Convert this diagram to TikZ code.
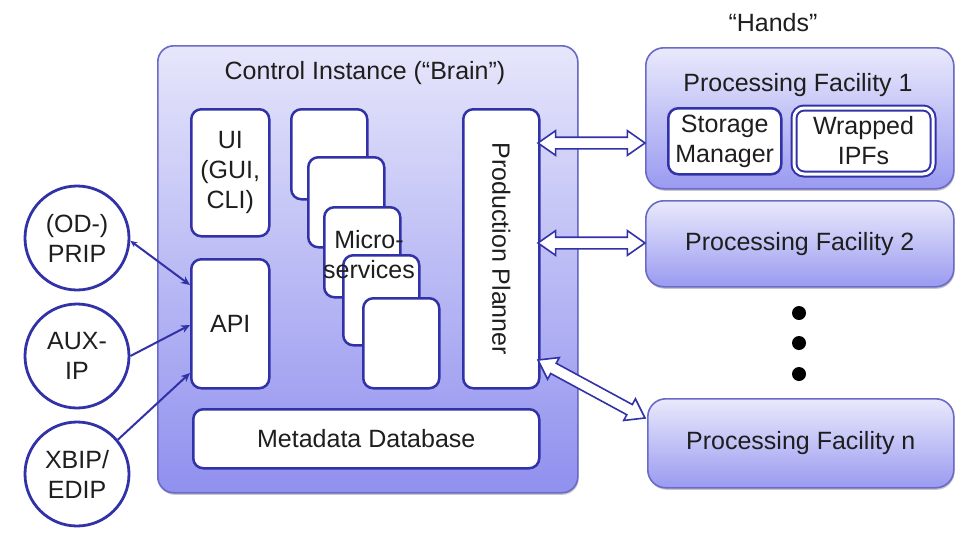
\documentclass[tikz,border=0pt]{standalone}
\usepackage{fontspec}
\setmainfont{Liberation Sans}
\usetikzlibrary{shapes.arrows,calc,shadows,arrows.meta}

\definecolor{ctlTop}{HTML}{E6E6FB}
\definecolor{ctlBot}{HTML}{9090EF}
\definecolor{pfTop}{HTML}{E9E9FC}
\definecolor{pfBot}{HTML}{9A9AF1}
\definecolor{frame}{HTML}{6A6AC8}
\definecolor{inkblue}{HTML}{3232A8}
\definecolor{txt}{HTML}{1E1E1E}

\tikzset{
  softshadow/.style={drop shadow={shadow xshift=0.8pt, shadow yshift=-2pt, opacity=0.22, fill=black}},
  container/.style={draw=frame, line width=1.6pt, rounded corners=16pt,
    top color=ctlTop, bottom color=ctlBot, anchor=north west, inner sep=0pt, softshadow},
  facility/.style={draw=frame, line width=1.6pt, rounded corners=18pt,
    top color=pfTop, bottom color=pfBot, anchor=north west, inner sep=0pt, softshadow},
  whitebox/.style={draw=inkblue, line width=2.5pt, fill=white, rounded corners=10pt,
    anchor=north west, inner sep=0pt, align=center},
  wrapbox/.style={whitebox, line width=2pt, double=white, double distance=3pt},
  source/.style={circle, draw=inkblue, line width=2.8pt, fill=white,
    minimum size=104pt, inner sep=0pt, align=center},
  feed/.style={draw=inkblue, line width=2pt, -{Stealth[length=9pt,width=8pt]}},
  hollow/.style={double arrow, draw=inkblue, line width=1.6pt, fill=white,
    inner xsep=0pt, inner ysep=5pt, minimum width=24pt,
    double arrow head extend=6.5pt, double arrow tip angle=70},
  label/.style={text=txt, align=center, inner sep=0pt},
  dot/.style={circle, fill=black, minimum size=14pt, inner sep=0pt}
}

\begin{document}
\begin{tikzpicture}[x=1pt, y=-1pt, font=\fontsize{25}{30}\selectfont, text=txt]
\useasboundingbox[fill=white] (0,0) rectangle (964,536);

% ---- control instance ----
\node[container, minimum width=420pt, minimum height=447pt] (ctl) at (157,45) {};
\node[label] (ctltitle) at (365,73) {Control Instance (“Brain”)};

\node[whitebox, minimum width=78pt, minimum height=127pt] (ui) at (190,108)
  {UI\\(GUI,\\CLI)};
\node[whitebox, minimum width=78pt, minimum height=129pt] (api) at (190,258) {API};

% stacked micro-service boxes
\node[whitebox, minimum width=76pt, minimum height=90pt] (ms1) at (290,108) {};
\node[whitebox, minimum width=76pt, minimum height=90pt] (ms2) at (307,156) {};
\node[whitebox, minimum width=76pt, minimum height=90pt] (ms3) at (323,206) {};
\node[whitebox, minimum width=76pt, minimum height=90pt] (ms4) at (342,254) {};
\node[whitebox, minimum width=76pt, minimum height=90pt] (ms5) at (362,297) {};
\node[label] (mstext) at (369,255) {Micro-\\services};

\node[whitebox, minimum width=76pt, minimum height=279pt] (pp) at (462,108) {};
\node[label, rotate=-90] (pptext) at (pp.center) {Production Planner};

\node[whitebox, minimum width=346pt, minimum height=59pt] (mdb) at (192,408)
  {Metadata Database};

% ---- external interfaces ----
\node[source] (prip) at (77,238) {(OD-)\\PRIP};
\node[source] (aux)  at (77,356) {AUX-\\IP};
\node[source] (xbip) at (77,474) {XBIP/\\EDIP};

\coordinate (apiA) at (190,285);
\coordinate (apiB) at (190,325);
\coordinate (apiC) at (190,373);
\draw[feed, {Stealth[length=7pt,width=6pt]}-{Stealth[length=9pt,width=8pt]}]
  (prip.-3) -- (apiA);
\draw[feed] (aux.east) -- (apiB);
\draw[feed] (xbip.40) -- (apiC);

% ---- processing facilities ----
\node[label] (hands) at (773,23) {“Hands”};

\node[facility, minimum width=308pt, minimum height=141pt] (pf1) at (645,47) {};
\node[label] (pf1title) at (798,85) {Processing Facility 1};
\node[whitebox, minimum width=113pt, minimum height=66pt] (store) at (667,107)
  {Storage\\Manager};
\node[wrapbox, minimum width=139pt, minimum height=66pt] (ipf) at (793,107)
  {Wrapped\\IPFs};

\node[facility, minimum width=308pt, minimum height=86pt] (pf2) at (645,200)
  {Processing Facility 2};

\node[dot] (d1) at (799,313) {};
\node[dot] (d2) at (799,343) {};
\node[dot] (d3) at (799,374) {};

\node[facility, minimum width=306pt, minimum height=89pt] (pfn) at (647,398)
  {Processing Facility n};

% ---- planner <-> facility links ----
\coordinate (ppA) at (538,143);  \coordinate (pfA) at (645,143);
\coordinate (ppB) at (538,243);  \coordinate (pfB) at (645,243);
\coordinate (ppC) at (538,360);  \coordinate (pfC) at (645,418);
\foreach \a/\b in {ppA/pfA, ppB/pfB, ppC/pfC}{
  \path let \p1=($(\b)-(\a)$), \n1={atan2(\y1,\x1)}, \n2={veclen(\x1,\y1)} in
    node[hollow, rotate=\n1, minimum height=\n2] at ($(\a)!0.5!(\b)$) {};
}
\end{tikzpicture}
\end{document}
